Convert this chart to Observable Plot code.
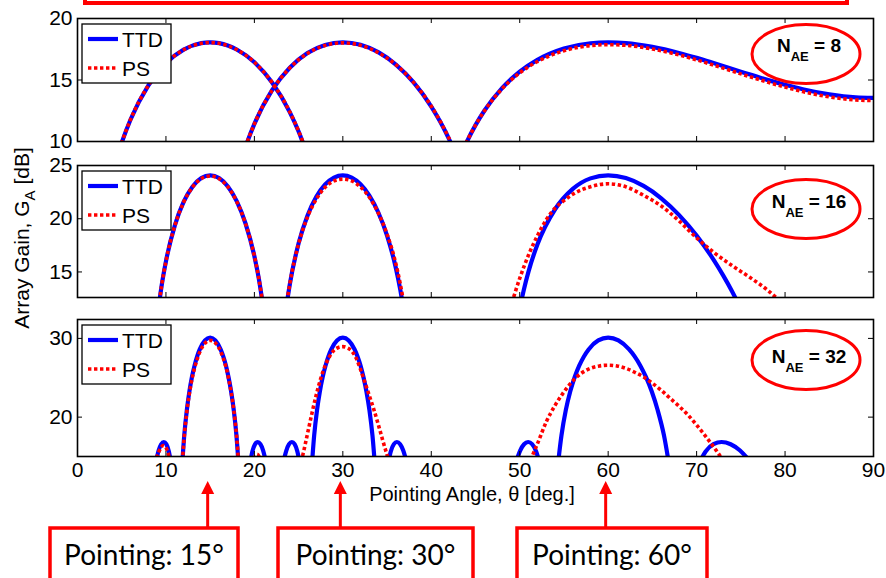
<!DOCTYPE html>
<html><head><meta charset="utf-8">
<script src="https://cdn.jsdelivr.net/npm/d3@7"></script>
<script src="https://cdn.jsdelivr.net/npm/@observablehq/plot@0.6"></script>
<style>
html,body{margin:0;padding:0;background:#fff;}
#chart{position:relative;width:886px;height:578px;overflow:hidden;font-family:"Liberation Sans",Arial,sans-serif;}
#chart svg{position:absolute;left:0;}
</style></head><body><div id="chart"></div>
<script>
// ---------- N_AE = 8 ----------
const n8_b15_theta = [4, 5, 6, 8, 10, 12, 14, 15, 16, 18, 20, 22, 24, 25, 26];
const n8_b15_ttd = [7.49, 9.90, 11.79, 14.55, 16.36, 17.47, 18.00, 18.06, 18.00, 17.48, 16.44, 14.79, 12.39, 10.81, 8.89];
const n8_b15_ps  = [7.49, 9.90, 11.79, 14.55, 16.35, 17.46, 17.98, 18.04, 17.98, 17.47, 16.44, 14.80, 12.41, 10.84, 8.93];
const n8_b30_theta = [18, 19, 20, 22, 24, 26, 28, 30, 32, 34, 36, 38, 40, 41, 42, 43];
const n8_b30_ttd = [7.18, 9.56, 11.43, 14.17, 16.00, 17.19, 17.85, 18.06, 17.86, 17.26, 16.25, 14.80, 12.84, 11.62, 10.21, 8.54];
const n8_b30_ps  = [7.18, 9.56, 11.43, 14.16, 15.98, 17.16, 17.81, 18.02, 17.82, 17.23, 16.24, 14.81, 12.87, 11.66, 10.26, 8.60];
const n8_b60_theta = [42, 43, 44, 45, 46, 48, 50, 52, 55, 58, 60, 62, 65, 68, 70, 72, 75, 78, 80, 82, 85, 88, 90];
const n8_b60_ttd = [6.16, 8.25, 9.94, 11.33, 12.50, 14.34, 15.68, 16.64, 17.56, 17.99, 18.06, 18.00, 17.69, 17.20, 16.80, 16.36, 15.68, 15.01, 14.61, 14.25, 13.83, 13.59, 13.55];
const n8_b60_ps  = [6.20, 8.30, 9.97, 11.33, 12.48, 14.28, 15.58, 16.50, 17.38, 17.80, 17.87, 17.82, 17.52, 17.04, 16.64, 16.19, 15.50, 14.83, 14.42, 14.06, 13.63, 13.38, 13.33];

// ---------- N_AE = 16 ----------
const n16_b15_theta = [9, 9.5, 10, 11, 12, 13, 14, 15, 16, 17, 18, 19, 20, 20.5, 21];
const n16_b15_ttd = [10.53, 13.65, 16.00, 19.36, 21.58, 23.01, 23.82, 24.08, 23.82, 23.03, 21.65, 19.55, 16.47, 14.37, 11.67];
const n16_b15_ps  = [10.55, 13.66, 16.00, 19.34, 21.55, 22.97, 23.77, 24.02, 23.77, 22.99, 21.62, 19.54, 16.48, 14.40, 11.72];
const n16_b30_theta = [23, 23.5, 24, 25, 26, 27, 28, 29, 30, 31, 32, 33, 34, 35, 36, 36.5, 37];
const n16_b30_ttd = [7.06, 11.00, 13.81, 17.70, 20.29, 22.06, 23.22, 23.87, 24.08, 23.87, 23.25, 22.18, 20.61, 18.42, 15.35, 13.32, 10.77];
const n16_b30_ps  = [7.20, 11.10, 13.85, 17.65, 20.15, 21.85, 22.95, 23.55, 23.72, 23.55, 22.98, 22.02, 20.55, 18.55, 15.75, 13.85, 11.50];
const n16_b60_theta = [49, 50, 50.5, 51, 52, 54, 56, 58, 60, 62, 64, 66, 68, 70, 72, 73, 74, 75];
const n16_b60_ttd = [5.75, 11.50, 13.45, 15.06, 17.58, 20.89, 22.80, 23.79, 24.08, 23.82, 23.08, 21.92, 20.36, 18.41, 16.04, 14.68, 13.19, 11.53];
const n16_b60ps_theta = [48.5, 49, 50, 51, 52, 53, 54, 55, 56, 58, 60, 62, 64, 66, 68, 70, 72, 74, 76, 78, 79.5];
const n16_b60_ps = [10.5, 11.8, 14.4, 16.6, 18.4, 19.9, 21.0, 21.7, 22.3, 23.0, 23.28, 23.0, 22.2, 21.2, 19.8, 18.2, 16.8, 15.6, 14.5, 13.3, 12.2];

// ---------- N_AE = 32 ----------
const n32_sideL_gain = [14.38, 15.76, 16.56, 16.84, 16.57, 15.64, 14.24];
const n32_sideR_gain = [14.24, 15.64, 16.57, 16.84, 16.56, 15.76, 14.38];
const n32_main_gain = [12.95, 17.68, 20.88, 23.25, 25.10, 26.56, 27.71, 28.60, 29.74, 30.10, 29.74, 28.60, 27.71, 26.56, 25.10, 23.25, 20.88, 17.68, 12.95];
const n32_b15_sideL_theta = [8.88, 9.17, 9.46, 9.76, 10.04, 10.33, 10.56];
const n32_b15_main_theta = [11.78, 12.07, 12.36, 12.65, 12.94, 13.24, 13.53, 13.82, 14.41, 15, 15.59, 16.18, 16.48, 16.78, 17.07, 17.37, 17.67, 17.97, 18.27];
const n32_b15_sideR_theta = [19.53, 19.77, 20.08, 20.37, 20.68, 20.99, 21.29];
const n32_b30_sideL_theta = [23.30, 23.61, 23.92, 24.24, 24.55, 24.86, 25.11];
const n32_b30_main_theta = [26.44, 26.76, 27.08, 27.40, 27.72, 28.05, 28.37, 28.69, 29.34, 30, 30.66, 31.33, 31.66, 32.00, 32.33, 32.67, 33.01, 33.35, 33.69];
const n32_b30_sideR_theta = [35.14, 35.42, 35.77, 36.11, 36.48, 36.83, 37.19];
const n32_b60_sideL_theta = [49.60, 50.05, 50.49, 50.95, 51.40, 51.86, 52.23];
const n32_b60_main_theta = [54.22, 54.72, 55.21, 55.71, 56.22, 56.74, 57.26, 57.79, 58.88, 60, 61.16, 62.37, 62.99, 63.62, 64.27, 64.93, 65.60, 66.31, 67.03];
const n32_b60_sideR_theta = [70.33, 71.02, 71.91, 72.83, 73.85, 74.91, 76.04];

const n32_ps15_sideL_theta = [8.95, 9.2, 9.45, 9.7, 9.95, 10.2, 10.45];
const n32_ps15_sideL = [14.8, 15.6, 16.15, 16.4, 16.25, 15.6, 14.6];
const n32_ps15_main = [12.9, 17.55, 20.7, 23.0, 24.8, 26.25, 27.35, 28.25, 29.38, 29.75, 29.42, 28.35, 27.5, 26.4, 25.0, 23.2, 20.9, 17.85, 13.3];
const n32_ps15_sideR_theta = [19.95, 20.3, 20.65];
const n32_ps15_sideR = [14.7, 15.3, 14.7];
const n32_ps30_theta = [25.1, 25.5, 26, 26.5, 27, 27.5, 28, 28.5, 29, 29.5, 30, 30.5, 31, 31.5, 32, 32.5, 33, 33.5, 34, 34.5, 35, 35.4];
const n32_ps30 = [13.6, 15.3, 17.87, 20.45, 22.85, 24.9, 26.55, 27.7, 28.5, 28.85, 28.95, 28.8, 28.4, 27.5, 26.05, 24.4, 22.7, 21.0, 19.1, 17.1, 15.2, 13.7];
const n32_ps60_theta = [51.0, 51.4, 52, 53, 54, 55, 56, 57, 58, 59, 60, 61, 62, 63, 64, 65, 66, 67, 68, 69, 70, 71, 72, 72.8, 73.2];
const n32_ps60 = [13.8, 15.0, 16.6, 19.4, 21.5, 23.2, 24.6, 25.6, 26.2, 26.5, 26.6, 26.5, 26.2, 25.7, 25.1, 24.3, 23.4, 22.4, 21.4, 20.3, 19.0, 17.6, 16.1, 14.8, 14.0];

// ---------- ticks / labels ----------
const xTickLabels = [0, 10, 20, 30, 40, 50, 60, 70, 80, 90];
const xInnerTicks = [10, 20, 30, 40, 50, 60, 70, 80];
const yTicks8 = [10, 15, 20];
const yTicks16 = [15, 20, 25];
const yTicks32 = [20, 30];
const panelNames = ["8", "16", "32"];
const seriesNames = ["TTD", "PS"];
const pointingAngles = [15, 30, 60];

const BLUE = "#0000ff", RED = "#ff0000";
const DASH = "3.4,2.6";
const W = 886, ML = 77, MR = 13, TL = 5;
const pts = (t, g) => t.map((x, i) => ({x, y: g[i]}));

function panel({top, height, mt, mb, ydom, yticks, ttd, ps, xlabels}) {
  const fw = W - ML - MR, fh = height - mt - mb;
  const marks = [];
  for (const d of ttd) marks.push(Plot.line(d, {x: "x", y: "y", stroke: BLUE, strokeWidth: 4.2, curve: "monotone-x", clip: true}));
  for (const d of ps) marks.push(Plot.line(d, {x: "x", y: "y", stroke: RED, strokeWidth: 3.6, strokeDasharray: DASH, strokeLinecap: "butt", strokeLinejoin: "miter", curve: "monotone-x", clip: true}));
  marks.push(Plot.frame({stroke: "black", strokeWidth: 1.6}));
  marks.push(Plot.axisY({anchor: "left", ticks: yticks, tickSize: 0, tickPadding: 5, label: null}));
  // inward tick marks on all four sides
  marks.push(Plot.tickY(yticks, {y: d => d, insetRight: fw - TL, stroke: "black", strokeWidth: 1}));
  marks.push(Plot.tickY(yticks, {y: d => d, insetLeft: fw - TL, stroke: "black", strokeWidth: 1}));
  marks.push(Plot.tickX(xInnerTicks, {x: d => d, insetTop: fh - TL, stroke: "black", strokeWidth: 1}));
  marks.push(Plot.tickX(xInnerTicks, {x: d => d, insetBottom: fh - TL, stroke: "black", strokeWidth: 1}));
  if (xlabels) marks.push(Plot.axisX({anchor: "bottom", ticks: xTickLabels, tickSize: 0, tickPadding: 6, label: null}));
  const p = Plot.plot({
    width: W, height, marginLeft: ML, marginRight: MR, marginTop: mt, marginBottom: mb,
    x: {domain: [0, 90], axis: null}, y: {domain: ydom},
    style: {background: "transparent", fontFamily: "'Liberation Sans', Arial, sans-serif", fontSize: "21px", color: "black", overflow: "visible"},
    marks
  });
  p.style.top = top + "px";
  document.getElementById("chart").appendChild(p);
  return p;
}

const p1 = panel({top: 0, height: 160, mt: 18, mb: 19, ydom: [10, 20], yticks: yTicks8,
  ttd: [pts(n8_b15_theta, n8_b15_ttd), pts(n8_b30_theta, n8_b30_ttd), pts(n8_b60_theta, n8_b60_ttd)],
  ps: [pts(n8_b15_theta, n8_b15_ps), pts(n8_b30_theta, n8_b30_ps), pts(n8_b60_theta, n8_b60_ps)]});
const p2 = panel({top: 150, height: 160, mt: 15, mb: 13, ydom: [12.6, 25], yticks: yTicks16,
  ttd: [pts(n16_b15_theta, n16_b15_ttd), pts(n16_b30_theta, n16_b30_ttd), pts(n16_b60_theta, n16_b60_ttd)],
  ps: [pts(n16_b15_theta, n16_b15_ps), pts(n16_b30_theta, n16_b30_ps), pts(n16_b60ps_theta, n16_b60_ps)]});
const p3 = panel({top: 300, height: 278, mt: 19, mb: 122, ydom: [15, 32.4], yticks: yTicks32, xlabels: true,
  ttd: [pts(n32_b15_sideL_theta, n32_sideL_gain), pts(n32_b15_main_theta, n32_main_gain), pts(n32_b15_sideR_theta, n32_sideR_gain),
        pts(n32_b30_sideL_theta, n32_sideL_gain), pts(n32_b30_main_theta, n32_main_gain), pts(n32_b30_sideR_theta, n32_sideR_gain),
        pts(n32_b60_sideL_theta, n32_sideL_gain), pts(n32_b60_main_theta, n32_main_gain), pts(n32_b60_sideR_theta, n32_sideR_gain)],
  ps: [pts(n32_ps15_sideL_theta, n32_ps15_sideL), pts(n32_b15_main_theta, n32_ps15_main), pts(n32_ps15_sideR_theta, n32_ps15_sideR),
       pts(n32_ps30_theta, n32_ps30), pts(n32_ps60_theta, n32_ps60)]});

// ---------- overlay annotations ----------
const xs = p3.scale("x");
const svg = d3.select("#chart").append("svg").attr("width", W).attr("height", 578).style("top", "0px")
  .style("font-family", "'Liberation Sans', Arial, sans-serif");

// top (cut-off) red box
svg.append("rect").attr("x", 85).attr("y", -60).attr("width", 762).attr("height", 63)
  .attr("fill", "none").attr("stroke", RED).attr("stroke-width", 4);

// legends
const frameTops = [18, 165, 319];
frameTops.forEach(ft => {
  const g = svg.append("g");
  g.append("rect").attr("x", 82).attr("y", ft + 6).attr("width", 89).attr("height", 59)
    .attr("fill", "white").attr("stroke", "black").attr("stroke-width", 1.3);
  seriesNames.forEach((name, i) => {
    const y = ft + 21 + i * 29;
    g.append("line").attr("x1", 88).attr("x2", 118).attr("y1", y).attr("y2", y)
      .attr("stroke", i ? RED : BLUE).attr("stroke-width", i ? 3.6 : 4.2)
      .attr("stroke-dasharray", i ? DASH : null);
    g.append("text").attr("x", 122).attr("y", y).attr("dy", "0.36em").attr("font-size", 21).text(name);
  });
});

// N_AE ellipses
const ellCy = [54, 209, 360];
const ellBase = [52, 208, 363];
panelNames.forEach((n, i) => {
  svg.append("ellipse").attr("cx", 806).attr("cy", ellCy[i]).attr("rx", 54).attr("ry", 29.5)
    .attr("fill", "white").attr("stroke", RED).attr("stroke-width", 3);
  const t = svg.append("text").attr("x", 809).attr("y", ellBase[i]).attr("text-anchor", "middle")
    .attr("font-weight", "bold").attr("font-size", 19);
  t.append("tspan").text("N");
  t.append("tspan").attr("dy", 9).attr("font-size", 13).text("AE");
  t.append("tspan").attr("dy", -9).text(" = " + n);
});

// axis labels
svg.append("text").attr("x", 472).attr("y", 501).attr("text-anchor", "middle").attr("font-size", 20)
  .text("Pointing Angle, θ [deg.]");
const yl = svg.append("text").attr("transform", "translate(29,238) rotate(-90)").attr("text-anchor", "middle").attr("font-size", 21);
yl.append("tspan").text("Array Gain, G");
yl.append("tspan").attr("dy", 6).attr("font-size", 15).text("A");
yl.append("tspan").attr("dy", -6).text(" [dB]");

// pointing boxes and arrows
const boxes = [[50, 188], [278, 195], [517, 190]];
pointingAngles.forEach((a, i) => {
  const x = xs.apply(a) - 2;
  svg.append("line").attr("x1", x).attr("x2", x).attr("y1", 528).attr("y2", 490)
    .attr("stroke", RED).attr("stroke-width", 3);
  svg.append("path").attr("d", `M${x},481 L${x - 6.5},494 L${x + 6.5},494 Z`).attr("fill", RED);
  const [bx, bw] = boxes[i];
  svg.append("rect").attr("x", bx).attr("y", 528).attr("width", bw).attr("height", 70)
    .attr("fill", "white").attr("stroke", RED).attr("stroke-width", 3.5);
  svg.append("text").attr("x", bx + bw / 2).attr("y", 565).attr("text-anchor", "middle")
    .attr("font-family", "Lato, 'Open Sans', sans-serif").attr("font-size", 28)
    .text(`Pointing: ${a}°`);
});
</script></body></html>
